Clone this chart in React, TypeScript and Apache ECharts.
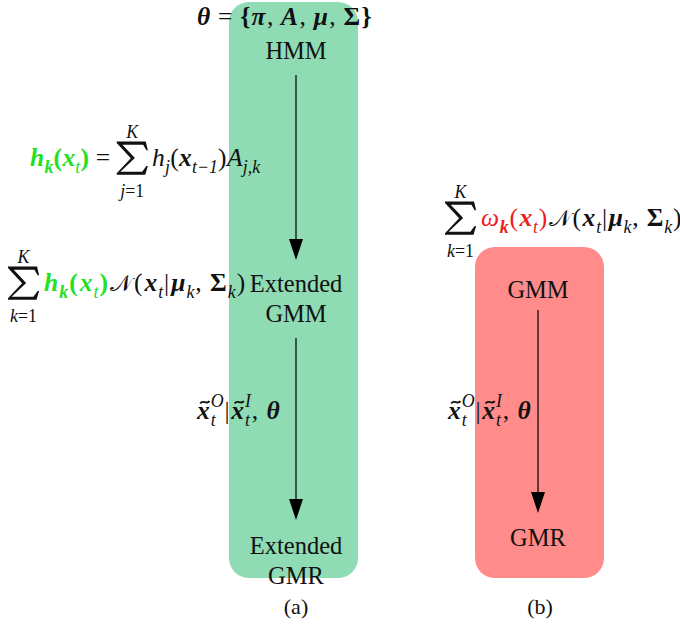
import React, { useEffect, useRef } from "react";
import * as echarts from "echarts";

// ---- data ----
const panelCaptions = ["(a)", "(b)"];
const hmmNodes = ["HMM", "Extended\nGMM", "Extended\nGMR"];
const gmmNodes = ["GMM", "GMR"];
const thetaParams = ["π", "A", "μ", "Σ"];
const panelColors = ["#8fdcb4", "#ff8b8b"];
const highlightGreen = "#22e022";
const highlightRed = "#ee1c1c";

const SERIF = "Liberation Serif, DejaVu Serif, serif";
const CAL = "DejaVu Serif, DejaVu Sans, serif";

type Tok = {
  t?: string;
  s?: "r" | "i" | "b" | "bi";
  c?: string;
  sub?: boolean;
  sup?: boolean;
  stack?: boolean;
  tilde?: boolean;
  sum?: { top: Tok[]; bot: Tok[] };
  font?: string;
  scale?: number;
};

let ctx: CanvasRenderingContext2D | null = null;
function fontOf(s: string | undefined) {
  const it = s === "i" || s === "bi" ? "italic" : "normal";
  const bd = s === "b" || s === "bi" ? "bold" : "normal";
  return { it, bd };
}
function measure(text: string, s: string | undefined, size: number, fam = SERIF) {
  if (!ctx) ctx = document.createElement("canvas").getContext("2d");
  const { it, bd } = fontOf(s);
  ctx!.font = `${it} ${bd} ${size}px ${fam}`;
  return ctx!.measureText(text).width;
}

function txt(text: string, x: number, base: number, size: number, s: string | undefined, color: string, fam = SERIF) {
  const { it, bd } = fontOf(s);
  return {
    type: "text",
    x,
    y: base - 0.3 * size,
    silent: true,
    style: {
      text,
      fontSize: size,
      fontFamily: fam,
      fontStyle: it,
      fontWeight: bd,
      fill: color,
      align: "left",
      verticalAlign: "middle",
      textAlign: "left",
      textVerticalAlign: "middle",
    },
  };
}

// summation sign outline in a 30 x 34 box
const SUM_PTS = [
  [0, 0], [28, 0], [30, 9], [28.6, 9], [25.5, 3.2], [5.5, 3.2], [17.5, 16.8], [3.5, 31],
  [24.5, 31], [28.6, 25], [30, 25], [27.5, 34], [0, 34], [0, 32.6], [13.6, 17.2], [0, 1.6],
];

function sumGlyph(x: number, cy: number, w: number, h: number) {
  return {
    type: "polygon",
    silent: true,
    shape: { points: SUM_PTS.map(([px, py]) => [x + (px * w) / 30, cy - h / 2 + (py * h) / 34]) },
    style: { fill: "#111" },
  };
}

function tildeMark(cx: number, y: number, w: number, color: string) {
  const x0 = cx - w / 2;
  return {
    type: "bezierCurve",
    silent: true,
    shape: { x1: x0, y1: y + 1.2, cpx1: x0 + w * 0.3, cpy1: y - 3.2, cpx2: x0 + w * 0.7, cpy2: y + 3.2, x2: x0 + w, y2: y - 1.2 },
    style: { stroke: color, lineWidth: 1.9, fill: "none" },
  };
}

function runWidth(toks: Tok[], size: number, gap: number) {
  const tmp: any[] = [];
  return layoutRun(toks, 0, 0, size, tmp, gap);
}

function layoutRun(toks: Tok[], x0: number, base: number, size: number, out: any[], gap = 0.4): number {
  let x = x0;
  let scriptStart = x0;
  let scriptEnd = x0;
  for (const tok of toks) {
    if (tok.sum) {
      const lim = size * 0.7;
      const sw = size * 1.22;
      const sh = size * 1.3;
      const tw = runWidth(tok.sum.top, lim, 0);
      const bw = runWidth(tok.sum.bot, lim, 0);
      const colW = Math.max(sw, tw, bw);
      const cx = x + colW / 2;
      out.push(sumGlyph(cx - sw / 2, base - 0.27 * size, sw, sh));
      layoutRun(tok.sum.top, cx - tw / 2, base - size * 1.1, lim, out, 0);
      layoutRun(tok.sum.bot, cx - bw / 2, base + size * 1.22, lim, out, 0);
      x += colW + 4;
    } else if (tok.sub || tok.sup) {
      const ss = size * 0.7;
      const b = tok.sub ? base + size * 0.27 : base - size * 0.46;
      if (tok.stack) x = scriptStart;
      else scriptStart = x;
      const w = measure(tok.t!, tok.s, ss);
      out.push(txt(tok.t!, x, b, ss, tok.s, tok.c || "#111"));
      x = Math.max(x + w, tok.stack ? scriptEnd : 0);
      scriptEnd = x;
    } else {
      const fam = tok.font || SERIF;
      const sz = size * (tok.scale || 1);
      if (x > x0) x += gap;
      const w = measure(tok.t!, tok.s, sz, fam);
      out.push(txt(tok.t!, x, base, sz, tok.s, tok.c || "#111", fam));
      if (tok.tilde) {
        out.push(tildeMark(x + w / 2 + 1.5, base - size * 0.62, size * 0.36, tok.c || "#111"));
      }
      x += w + gap;
    }
  }
  return x - x0;
}

const G = highlightGreen;
const R = highlightRed;

const thetaFormula: Tok[] = [
  { t: "θ", s: "bi" },
  { t: " = ", s: "r" },
  { t: "{", s: "b" },
  ...thetaParams.flatMap((p, i) => {
    const arr: Tok[] = [{ t: p, s: p === "Σ" ? "b" : "bi" }];
    if (i < thetaParams.length - 1) arr.push({ t: ", ", s: "r" });
    return arr;
  }),
  { t: "}", s: "b" },
];

const hFormula: Tok[] = [
  { t: "h", s: "bi", c: G },
  { t: "k", s: "bi", c: G, sub: true },
  { t: "(", s: "b", c: G },
  { t: "x", s: "bi", c: G },
  { t: "t", s: "i", c: G, sub: true },
  { t: ")", s: "b", c: G },
  { t: " = ", s: "r" },
  { sum: { top: [{ t: "K", s: "i" }], bot: [{ t: "j", s: "i" }, { t: "=1", s: "r" }] } },
  { t: "h", s: "i" },
  { t: "j", s: "i", sub: true },
  { t: "(", s: "r" },
  { t: "x", s: "bi" },
  { t: "t−1", s: "i", sub: true },
  { t: ")", s: "r" },
  { t: "A", s: "i" },
  { t: "j,k", s: "i", sub: true },
];

const normalTail: Tok[] = [
  { t: "𝒩", s: "r", font: CAL, scale: 0.9 },
  { t: "(", s: "r" },
  { t: "x", s: "bi" },
  { t: "t", s: "i", sub: true },
  { t: "|", s: "r" },
  { t: "μ", s: "bi" },
  { t: "k", s: "i", sub: true },
  { t: ", ", s: "r" },
  { t: "Σ", s: "b" },
  { t: "k", s: "i", sub: true },
  { t: ")", s: "r" },
];

const sumK = { top: [{ t: "K", s: "i" } as Tok], bot: [{ t: "k", s: "i" } as Tok, { t: "=1", s: "r" } as Tok] };

const mixFormulaHMM: Tok[] = [
  { sum: sumK },
  { t: "h", s: "bi", c: G },
  { t: "k", s: "bi", c: G, sub: true },
  { t: "(", s: "b", c: G },
  { t: "x", s: "bi", c: G },
  { t: "t", s: "i", c: G, sub: true },
  { t: ")", s: "b", c: G },
  ...normalTail,
];

const mixFormulaGMM: Tok[] = [
  { sum: sumK },
  { t: "ω", s: "i", c: R },
  { t: "k", s: "bi", c: R, sub: true },
  { t: "(", s: "r", c: R },
  { t: "x", s: "bi", c: R },
  { t: "t", s: "i", c: R, sub: true },
  { t: ")", s: "r", c: R },
  ...normalTail,
];

const condFormula: Tok[] = [
  { t: "x", s: "bi", tilde: true },
  { t: "O", s: "i", sup: true },
  { t: "t", s: "i", sub: true, stack: true },
  { t: "|", s: "r" },
  { t: "x", s: "bi", tilde: true },
  { t: "I", s: "i", sup: true },
  { t: "t", s: "i", sub: true, stack: true },
  { t: ", ", s: "r" },
  { t: "θ", s: "bi" },
];

function label(text: string, cx: number, cy: number, size = 24.5) {
  return {
    type: "text",
    x: cx,
    y: cy,
    silent: true,
    style: {
      text,
      fontSize: size,
      fontFamily: SERIF,
      fill: "#111",
      align: "center",
      verticalAlign: "middle",
      textAlign: "center",
      textVerticalAlign: "middle",
      lineHeight: 30,
    },
  };
}

function arrow(x: number, y1: number, y2: number) {
  const headL = 21;
  const headW = 7;
  return [
    { type: "line", silent: true, shape: { x1: x, y1, x2: x, y2: y2 - headL + 2 }, style: { stroke: "#000", lineWidth: 1.2 } },
    {
      type: "polygon",
      silent: true,
      shape: { points: [[x - headW, y2 - headL], [x + headW, y2 - headL], [x, y2]] },
      style: { fill: "#000" },
    },
  ];
}

export default function App() {
  const ref = useRef<HTMLDivElement>(null);
  useEffect(() => {
    const chart = echarts.init(ref.current!, null, { renderer: "svg" });
    const els: any[] = [];
    // panels
    els.push({ type: "rect", silent: true, shape: { x: 229, y: 2, width: 129, height: 576, r: 20 }, style: { fill: panelColors[0] } });
    els.push({ type: "rect", silent: true, shape: { x: 475, y: 247, width: 129, height: 331, r: 20 }, style: { fill: panelColors[1] } });

    // panel (a)
    els.push(label(hmmNodes[0], 296, 50));
    els.push(...arrow(296, 75, 260));
    els.push(label(hmmNodes[1], 296, 298));
    els.push(...arrow(296, 338, 520));
    els.push(label(hmmNodes[2], 296, 560));
    // panel (b)
    els.push(label(gmmNodes[0], 538, 289));
    els.push(...arrow(538, 310, 513));
    els.push(label(gmmNodes[1], 538, 537));
    // captions
    els.push(label(panelCaptions[0], 296, 606, 22));
    els.push(label(panelCaptions[1], 540, 606, 22));

    // formulas
    layoutRun(thetaFormula, 197, 24, 25.5, els, 0.7);
    layoutRun(hFormula, 30, 165, 25.5, els, 0.2);
    layoutRun(mixFormulaHMM, 8, 290, 25.5, els, 1.0);
    layoutRun(mixFormulaGMM, 445, 225, 25.5, els, 0.8);
    layoutRun(condFormula, 197, 418, 25.5, els, 0.9);
    layoutRun(condFormula, 448, 418, 25.5, els, 0.9);

    chart.setOption({ animation: false, graphic: { elements: els } });
    return () => chart.dispose();
  }, []);
  return <div ref={ref} style={{ position: "fixed", left: 0, top: 0, width: 680, height: 626, background: "#fff" }} />;
}
